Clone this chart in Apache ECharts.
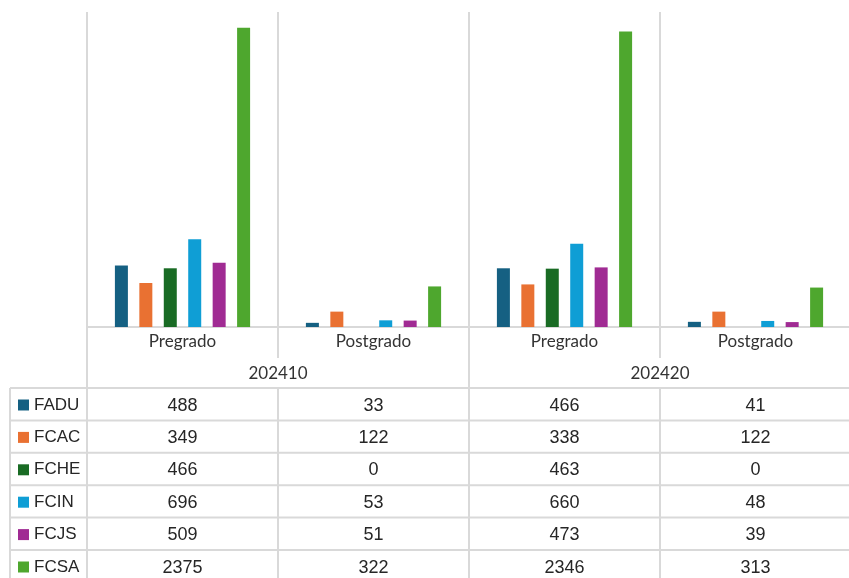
<!DOCTYPE html>
<html>
<head>
<meta charset="utf-8">
<script src="https://cdn.jsdelivr.net/npm/echarts@6/dist/echarts.min.js"></script>
<style>
  html, body { margin: 0; padding: 0; background: #fff; }
  #chart { width: 849px; height: 578px; }
</style>
</head>
<body>
<div id="chart"></div>
<script>
  // chart data
  const categories = ['Pregrado', 'Postgrado', 'Pregrado', 'Postgrado']
  const periods = ['202410', '202420']
  const faculties = ['FADU', 'FCAC', 'FCHE', 'FCIN', 'FCJS', 'FCSA']
  const fadu = [488, 33, 466, 41]
  const fcac = [349, 122, 338, 122]
  const fche = [466, 0, 463, 0]
  const fcin = [696, 53, 660, 48]
  const fcjs = [509, 51, 473, 39]
  const fcsa = [2375, 322, 2346, 313]
  const yMax = 2500

  const seriesData = [fadu, fcac, fche, fcin, fcjs, fcsa]
  const colors = ['#156082', '#E97132', '#196B24', '#0F9ED5', '#A02B93', '#4EA72E']
  const gridLine = '#d9d9d9'
  const tableFont = '18px "Liberation Sans", Arial, sans-serif'

  const chart = echarts.init(document.getElementById('chart'))

  chart.setOption({
    animation: false,
    color: colors,
    grid: {
      left: 87,
      width: 764,
      top: 12,
      bottom: 251,
      outerBoundsMode: 'none'
    },
    legend: {
      data: faculties,
      orient: 'vertical',
      left: 18,
      top: 395,
      padding: 0,
      icon: 'rect',
      itemWidth: 11,
      itemHeight: 11,
      itemGap: 12.4,
      selectedMode: false,
      textStyle: {
        fontFamily: '"Liberation Sans", Arial, sans-serif',
        fontSize: 17,
        lineHeight: 20,
        color: '#262626'
      }
    },
    xAxis: [
      {
        type: 'category',
        data: categories,
        axisLine: { lineStyle: { color: gridLine, width: 2 } },
        axisTick: { show: true, interval: 0, length: 31, lineStyle: { color: gridLine, width: 2 } },
        splitLine: { show: true, interval: 0, lineStyle: { color: gridLine, width: 2 } },
        axisLabel: {
          interval: 0,
          margin: 6,
          fontFamily: 'Lato, sans-serif',
          fontSize: 17,
          color: '#333'
        }
      },
      {
        type: 'category',
        data: periods,
        position: 'bottom',
        axisLine: { show: false },
        axisTick: { show: true, interval: 0, length: 251, lineStyle: { color: gridLine, width: 2 } },
        axisLabel: {
          interval: 0,
          margin: 38,
          fontFamily: 'Lato, sans-serif',
          fontSize: 17,
          color: '#333'
        }
      }
    ],
    yAxis: {
      type: 'value',
      min: 0,
      max: yMax,
      show: false,
      splitLine: { show: false }
    },
    series: faculties.map((name, i) => ({
      name: name,
      type: 'bar',
      xAxisIndex: 0,
      barWidth: 13,
      barGap: '88%',
      data: seriesData[i]
    }))
  })

  // data table below the chart, aligned on the category columns
  function buildTable() {
    const top = 388
    const rowH = 32.4
    const left = 10
    const right = 851
    const bottom = 600
    const centers = categories.map((c, j) => chart.convertToPixel({ xAxisIndex: 0 }, j))
    const els = []
    for (let i = 0; i <= faculties.length; i++) {
      const y = top + i * rowH
      els.push({ type: 'line', shape: { x1: left, y1: y, x2: right, y2: y }, style: { stroke: gridLine, lineWidth: 2 } })
    }
    els.push({ type: 'line', shape: { x1: left, y1: top, x2: left, y2: bottom }, style: { stroke: gridLine, lineWidth: 2 } })
    for (let j = 1; j < centers.length; j++) {
      const x = (centers[j - 1] + centers[j]) / 2
      els.push({ type: 'line', shape: { x1: x, y1: top, x2: x, y2: bottom }, style: { stroke: gridLine, lineWidth: 2 } })
    }
    seriesData.forEach((row, i) => {
      row.forEach((v, j) => {
        els.push({
          type: 'text',
          x: centers[j],
          y: top + i * rowH + rowH / 2 + 1.5,
          style: {
            text: String(v),
            font: tableFont,
            fill: '#262626',
            align: 'center',
            verticalAlign: 'middle',
            textAlign: 'center',
            textVerticalAlign: 'middle'
          }
        })
      })
    })
    return els
  }

  chart.setOption({ graphic: { elements: buildTable() } })
</script>
</body>
</html>
